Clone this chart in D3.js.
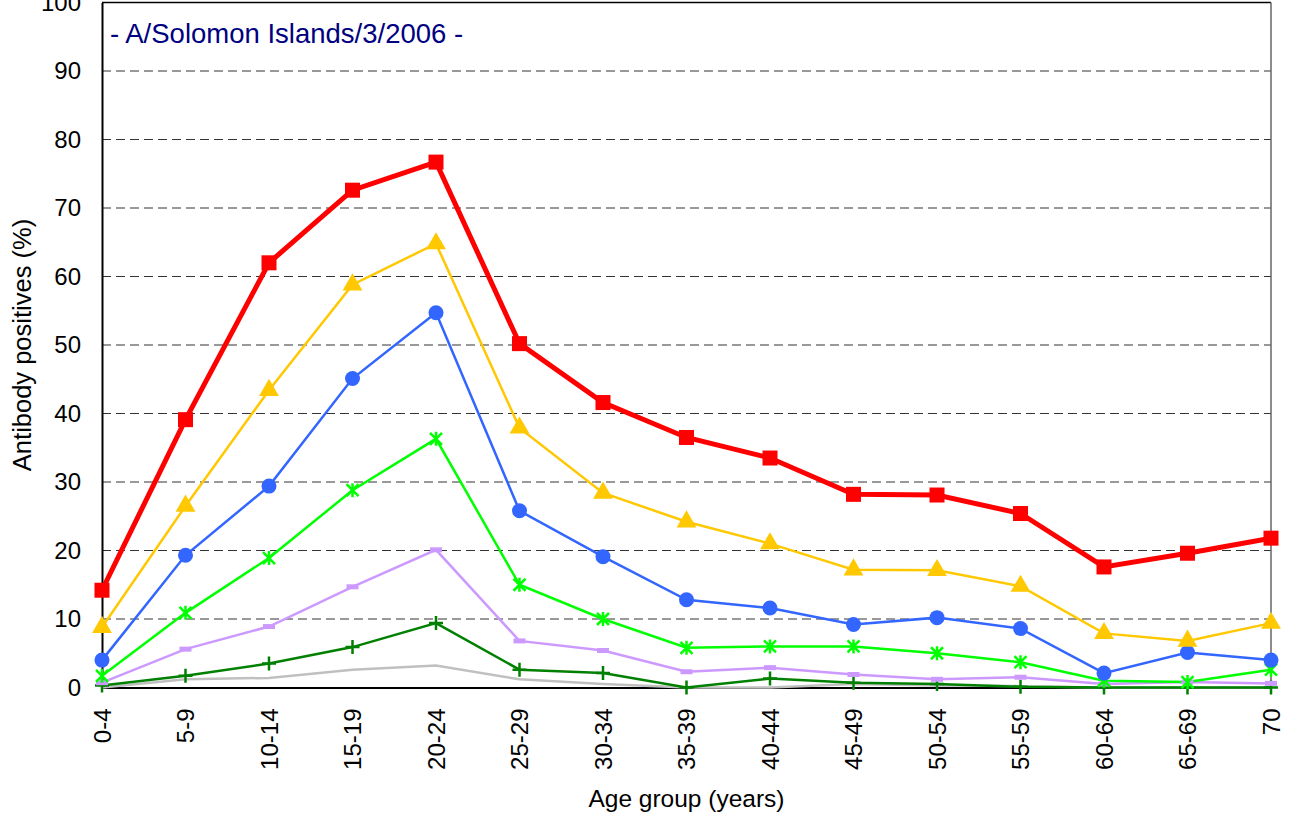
<!DOCTYPE html>
<html>
<head>
<meta charset="utf-8">
<script src="https://cdn.jsdelivr.net/npm/d3@7"></script>
<style>
  body { margin: 0; background: #fff; }
  svg { display: block; font-family: "Liberation Sans", Arial, sans-serif; }
</style>
</head>
<body>
<svg id="chart" width="1290" height="816"></svg>
<script>
// age groups on the x axis
var ageGroups = ["0-4","5-9","10-14","15-19","20-24","25-29","30-34","35-39","40-44","45-49","50-54","55-59","60-64","65-69","70"];
var yTicks = [0,10,20,30,40,50,60,70,80,90,100];

// one array per titre series (% positives)
var redVals    = [14.2,39.1,62.0,72.6,76.7,50.2,41.6,36.5,33.5,28.2,28.1,25.4,17.6,19.6,21.8];
var yellowVals = [8.8,26.5,43.4,58.8,64.8,37.9,28.4,24.2,21.0,17.2,17.1,14.8,7.9,6.8,9.4];
var blueVals   = [4.0,19.3,29.4,45.1,54.7,25.8,19.1,12.8,11.6,9.2,10.2,8.6,2.1,5.1,4.0];
var greenVals  = [1.7,10.9,18.9,28.8,36.3,15.0,10.0,5.8,6.0,6.0,5.0,3.7,1.0,0.8,2.6];
var purpleVals = [0.7,5.6,8.9,14.7,20.1,6.8,5.4,2.3,2.9,1.9,1.2,1.5,0.5,0.8,0.6];
var dkgreenVals= [0.3,1.7,3.5,5.9,9.4,2.6,2.1,0.0,1.3,0.7,0.5,0.1,0.0,0.0,0.0];
var grayVals   = [0.0,1.2,1.4,2.6,3.2,1.2,0.5,0.0,0.0,0.5,0.3,0.2,0.0,0.0,0.0];

var series = [
  {vals: grayVals,    color: "#c0c0c0", width: 2.5, marker: "none"},
  {vals: dkgreenVals, color: "#008000", width: 2.5, marker: "plus"},
  {vals: purpleVals,  color: "#cc99ff", width: 2.5, marker: "bar"},
  {vals: greenVals,   color: "#00ff00", width: 2.5, marker: "star"},
  {vals: blueVals,    color: "#3366ff", width: 2.5, marker: "circle"},
  {vals: yellowVals,  color: "#ffc800", width: 2.5, marker: "triangle"},
  {vals: redVals,     color: "#ff0000", width: 5, marker: "square"}
];

var svg = d3.select("#chart");
// plot box (note: "top" is reserved on window, so prefixed names)
var plotL = 102, plotR = 1271, plotT = 2.5, plotB = 687.5;

var x = d3.scalePoint().domain(ageGroups).range([plotL, plotR]);
var y = d3.scaleLinear().domain([0, 100]).range([plotB, plotT]);

// dashed gridlines
svg.append("g")
  .selectAll("line")
  .data(yTicks.filter(function(d){ return d > 0 && d < 100; }))
  .enter().append("line")
  .attr("x1", plotL).attr("x2", plotR)
  .attr("y1", function(d){ return y(d); })
  .attr("y2", function(d){ return y(d); })
  .attr("stroke", "#333")
  .attr("stroke-width", 1)
  .attr("stroke-dasharray", "9,5");

// frame
svg.append("line").attr("x1", plotL).attr("x2", plotR).attr("y1", plotT).attr("y2", plotT)
  .attr("stroke", "#000").attr("stroke-width", 1.5);
svg.append("line").attr("x1", plotR).attr("x2", plotR).attr("y1", plotT).attr("y2", plotB)
  .attr("stroke", "#666").attr("stroke-width", 1.5);

// axes
var yAxis = d3.axisLeft(y).tickValues(yTicks).tickSize(0).tickPadding(21);
var gy = svg.append("g").attr("transform", "translate(" + plotL + ",0)").call(yAxis);
gy.select(".domain").attr("stroke", "#000").attr("stroke-width", 2);
gy.selectAll("text").attr("font-size", 24).attr("fill", "#000")
  .attr("font-family", "Liberation Sans, Arial, sans-serif");

var xAxis = d3.axisBottom(x).tickSize(0).tickPadding(0);
var gx = svg.append("g").attr("transform", "translate(0," + plotB + ")").call(xAxis);
gx.select(".domain").attr("stroke", "#000").attr("stroke-width", 2);
gx.selectAll("text")
  .attr("font-size", 24).attr("fill", "#000")
  .attr("font-family", "Liberation Sans, Arial, sans-serif")
  .attr("text-anchor", "end")
  .attr("dy", "0.35em")
  .attr("y", 0)
  .attr("transform", "translate(0,21) rotate(-90)");

// lines
var line = d3.line()
  .x(function(d, i){ return x(ageGroups[i]); })
  .y(function(d){ return y(d); });

series.forEach(function(s){
  svg.append("path")
    .datum(s.vals)
    .attr("fill", "none")
    .attr("stroke", s.color)
    .attr("stroke-width", s.width)
    .attr("stroke-linejoin", "miter")
    .attr("d", line);
});

// markers
var triangle = d3.symbol().type(d3.symbolTriangle).size(170);
series.forEach(function(s){
  if (s.marker == "none") return;
  var g = svg.append("g").selectAll("g")
    .data(s.vals)
    .enter().append("g")
    .attr("transform", function(d, i){ return "translate(" + x(ageGroups[i]) + "," + y(d) + ")"; });

  if (s.marker == "square") {
    g.append("rect").attr("x", -7.5).attr("y", -7.5).attr("width", 15).attr("height", 15).attr("fill", s.color);
  } else if (s.marker == "triangle") {
    g.append("path").attr("d", triangle).attr("fill", s.color);
  } else if (s.marker == "circle") {
    g.append("circle").attr("r", 7.5).attr("fill", s.color);
  } else if (s.marker == "bar") {
    g.append("rect").attr("x", -6).attr("y", -2.5).attr("width", 12).attr("height", 5).attr("fill", s.color);
  } else if (s.marker == "plus") {
    g.append("path").attr("d", "M-7,0H7M0,-7V7").attr("stroke", s.color).attr("stroke-width", 2.5);
  } else if (s.marker == "star") {
    g.append("path").attr("d", "M-6,-6L6,6M-6,6L6,-6M0,-7V7").attr("stroke", s.color).attr("stroke-width", 2.5);
  }
});

// titles
svg.append("text")
  .attr("x", 110).attr("y", 43)
  .attr("font-size", 27.5)
  .attr("fill", "#000080")
  .text("- A/Solomon Islands/3/2006 -");

svg.append("text")
  .attr("transform", "translate(31," + (y(50)) + ") rotate(-90)")
  .attr("text-anchor", "middle")
  .attr("font-size", 25.5)
  .attr("fill", "#000")
  .text("Antibody positives (%)");

svg.append("text")
  .attr("x", (plotL + plotR) / 2)
  .attr("y", 807)
  .attr("text-anchor", "middle")
  .attr("font-size", 24.5)
  .attr("fill", "#000")
  .text("Age group (years)");
</script>
</body>
</html>
